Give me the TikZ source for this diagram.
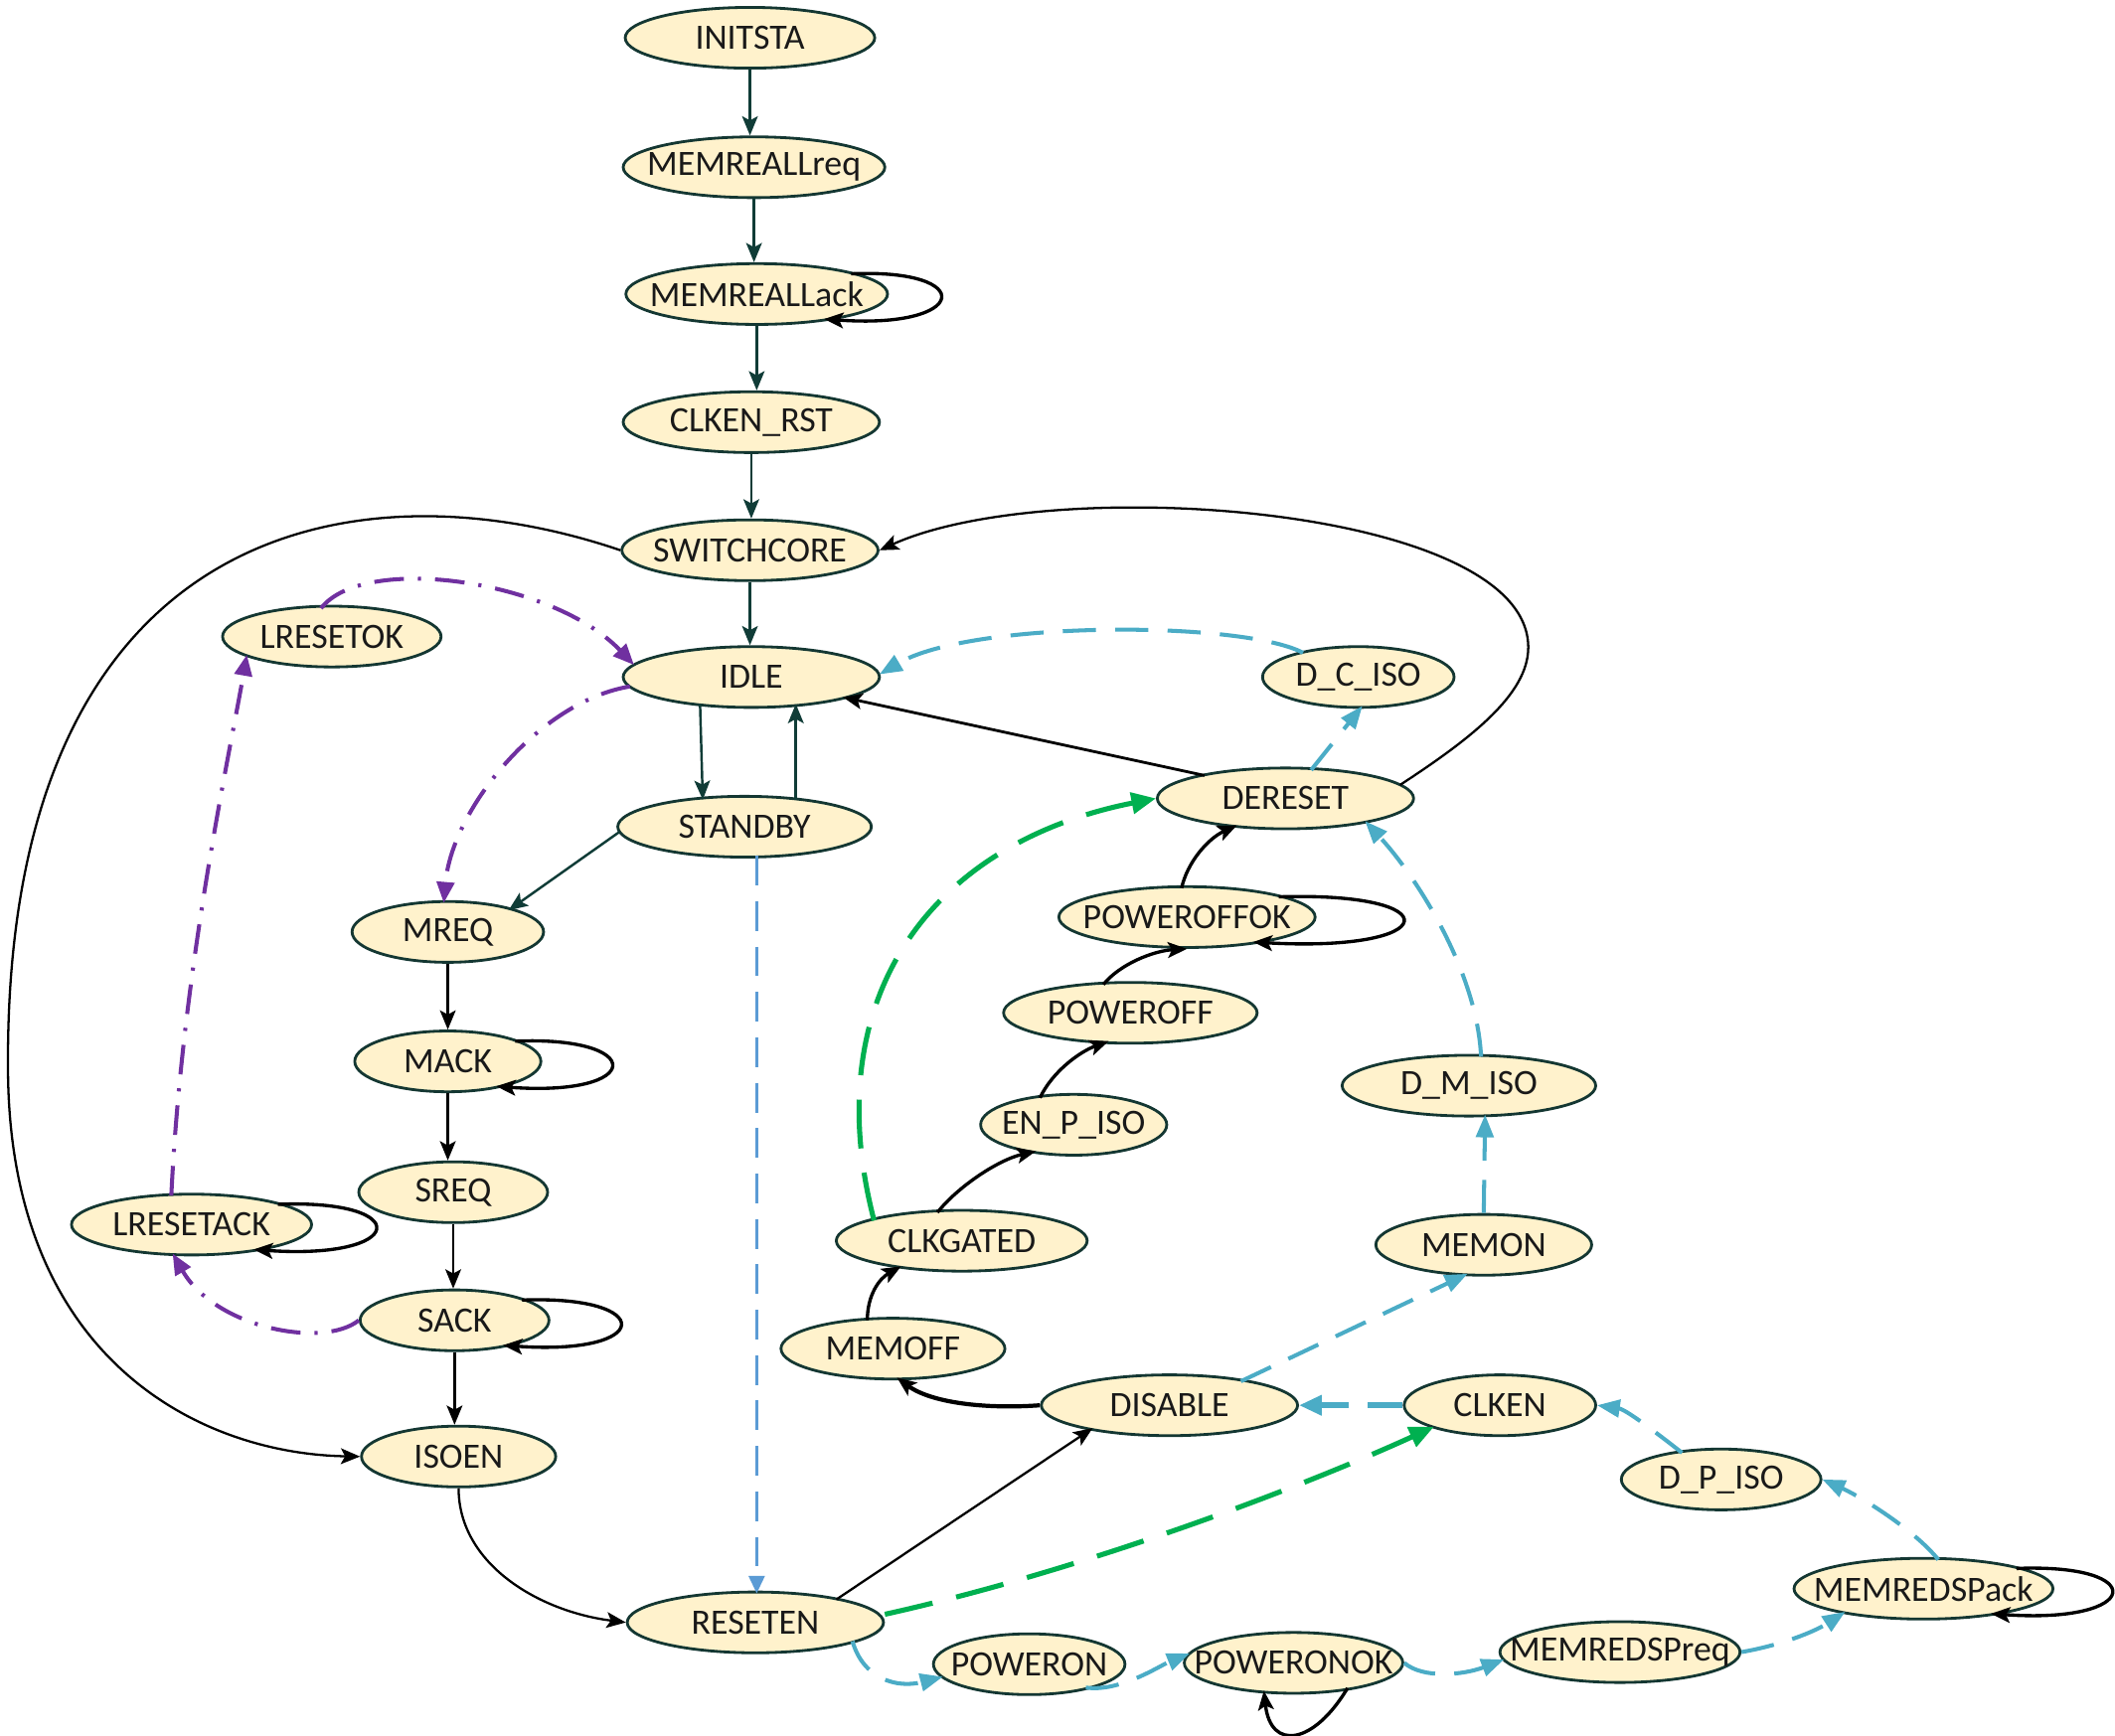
\documentclass[tikz,border=0pt]{standalone}
\usepackage{fontspec}
\setmainfont{Carlito}
\usetikzlibrary{shapes.geometric,arrows.meta,calc}
\definecolor{nodef}{RGB}{255,242,204}
\definecolor{nodeb}{RGB}{20,55,50}
\definecolor{tealc}{RGB}{16,60,55}
\definecolor{cblue}{RGB}{75,172,198}
\definecolor{mblue}{RGB}{91,155,213}
\definecolor{cgreen}{RGB}{0,176,80}
\definecolor{cpurple}{RGB}{112,48,160}
\begin{document}
\begin{tikzpicture}[x=0.3861pt,y=-0.3861pt,
  st/.style={ellipse,draw=nodeb,fill=nodef,line width=0.8pt,inner xsep=-12pt,inner ysep=0pt,
    minimum height=17.4pt,minimum width={#1*0.3861pt},text=black!90,font=\fontsize{10.2}{12}\selectfont},
  tl/.style={draw=tealc,line width=0.7pt,-{Stealth[length=5.5pt,width=4.5pt,inset=1.2pt]}},
  bk/.style={draw=black,line width=0.65pt,-{Stealth[length=5.5pt,width=4.5pt,inset=1.2pt]}},
  bkt/.style={draw=black,line width=0.95pt,-{Stealth[length=5.5pt,width=4.5pt,inset=1.2pt]}},
  bl/.style={draw=cblue,line width=1.15pt,dash pattern=on 9.5pt off 5.5pt,-{Triangle[length=6.5pt,width=5pt]}},
  blt/.style={draw=cblue,line width=1.6pt,dash pattern=on 10pt off 5.5pt,-{Triangle[length=6.5pt,width=5.5pt]}},
  mb/.style={draw=mblue,line width=0.85pt,dash pattern=on 8.5pt off 4.5pt,-{Triangle[length=5pt,width=4.5pt]}},
  gr/.style={draw=cgreen,line width=1.45pt,dash pattern=on 14pt off 7pt,-{Triangle[length=7pt,width=6pt]}},
  pu/.style={draw=cpurple,line width=1.15pt,dash pattern=on 8.5pt off 4pt on 0.9pt off 4pt,-{Triangle[length=6pt,width=5pt]}}
]
\useasboundingbox (0,0) rectangle (1568,1287);

% nodes
\node[st=185] (initsta) at (556,28) {INITSTA};
\node[st=194] (mreqall) at (559,124) {MEMREALLreq};
\node[st=194] (mack0) at (561,218) {MEMREALLack};
\node[st=190] (clkrst) at (557,313) {CLKEN\_RST};
\node[st=190] (switch) at (556,408) {SWITCHCORE};
\node[st=162] (lresetok) at (246,472) {LRESETOK};
\node[st=190] (idle) at (557,502) {IDLE};
\node[st=142] (dciso) at (1007,502) {D\_C\_ISO};
\node[st=188] (standby) at (552,613) {STANDBY};
\node[st=190] (dereset) at (953,592) {DERESET};
\node[st=142] (mreq) at (332,691) {MREQ};
\node[st=190] (poffok) at (880,680) {POWEROFFOK};
\node[st=188] (poff) at (838,751) {POWEROFF};
\node[st=138] (mack) at (332,787) {MACK};
\node[st=188] (dmiso) at (1089,805) {D\_M\_ISO};
\node[st=138] (enpiso) at (796,834) {EN\_P\_ISO};
\node[st=140] (sreq) at (336,884) {SREQ};
\node[st=178] (lresetack) at (142,908) {LRESETACK};
\node[st=186] (clkgated) at (713,920) {CLKGATED};
\node[st=160] (memon) at (1100,923) {MEMON};
\node[st=140] (sack) at (337,979) {SACK};
\node[st=166] (memoff) at (662,1000) {MEMOFF};
\node[st=190] (disable) at (867,1042) {DISABLE};
\node[st=142] (clken) at (1112,1042) {CLKEN};
\node[st=144] (isoen) at (340,1080) {ISOEN};
\node[st=148] (dpiso) at (1276,1097) {D\_P\_ISO};
\node[st=190] (reseten) at (560,1203) {RESETEN};
\node[st=192] (mpack) at (1426,1178) {MEMREDSPack};
\node[st=142] (poweron) at (763,1234) {POWERON};
\node[st=162] (ponok) at (959,1233) {POWERONOK};
\node[st=178] (mpreq) at (1201,1225) {MEMREDSPreq};

% main column
\draw[tl] (initsta.south) -- (initsta.south |- mreqall.north);
\draw[tl] (mreqall.south) -- (mreqall.south |- mack0.north);
\draw[tl] (mack0.south) -- (mack0.south |- clkrst.north);
\draw[tl] (clkrst.south) -- (clkrst.south |- switch.north);
\draw[tl] (switch.south) -- (switch.south |- idle.north);
\draw[tl] ($(idle)+(-38,20)$) -- ($(standby)+(-31,-20)$);
\draw[tl] ($(standby)+(38,-20)$) -- ($(idle)+(33,20)$);
\draw[tl] ($(standby)+(-93,4)$) -- ($(mreq)+(45,-16)$);
\draw[bk] (mreq.south) -- (mreq.south |- mack.north);
\draw[bk] (mack.south) -- (mack.south |- sreq.north);
\draw[bk] (sreq.south) -- (sreq.south |- sack.north);
\draw[bk] (sack.south) -- (sack.south |- isoen.north);

% self loops
\draw[bkt] ($(mack0)+(70,-15)$) .. controls +(95,-4) and +(107,8) .. ($(mack0)+(50,18.5)$);
\draw[bkt] ($(mack)+(50,-15)$) .. controls +(98,-4) and +(110,8) .. ($(mack)+(36,18.5)$);
\draw[bkt] ($(sack)+(50,-15)$) .. controls +(100,-4) and +(112,8) .. ($(sack)+(36,18.5)$);
\draw[bkt] ($(lresetack)+(64,-15)$) .. controls +(102,-4) and +(114,8) .. ($(lresetack)+(46,18.5)$);
\draw[bkt] ($(poffok)+(68,-15)$) .. controls +(129,-4) and +(141,8) .. ($(poffok)+(49,18.5)$);
\draw[bkt] ($(mpack)+(69,-15)$) .. controls +(100,-4) and +(112,8) .. ($(mpack)+(50,18.5)$);
\draw[bkt] ($(ponok)+(40,18.7)$) .. controls +(-25,42) and +(5,45) .. ($(ponok)+(-22,20.7)$);

% long black curves
\draw[bk] (switch.west) .. controls (260,340) and (0,390) .. (6,800)
  .. controls (10,1010) and (150,1078) .. (isoen.west);
\draw[bk] ($(dereset)+(85,-10)$) .. controls (1090,548) and (1133,515) .. (1133,480)
  .. controls (1133,375) and (780,350) .. (switch.east);
\draw[bk,line width=0.8pt] ($(dereset)+(-60,-17)$) -- ($(idle)+(68,15)$);
\draw[bk] (isoen.south) .. controls (340,1160) and (400,1195) .. (reseten.west);
\draw[bk] ($(reseten)+(60,-17)$) -- ($(disable)+(-57,17)$);

% power-off chain
\draw[bkt,line width=1.2pt] (disable.west) .. controls (730,1045) and (690,1040) .. ($(memoff)+(3,21.5)$);
\draw[bkt] ($(memoff)+(-19,-21)$) .. controls (643,960) and (652,948) .. ($(clkgated)+(-45,19)$);
\draw[bkt] ($(clkgated)+(-18,-21)$) .. controls (710,880) and (740,860) .. ($(enpiso)+(-28,19.6)$);
\draw[bkt] ($(enpiso)+(-25,-20)$) .. controls (780,795) and (800,780) .. ($(poff)+(-16,21)$);
\draw[bkt] ($(poff)+(-20,-21)$) .. controls (830,715) and (855,705) .. (poffok.south);
\draw[bkt] ($(poffok)+(-4,-21.5)$) .. controls (880,640) and (895,622) .. ($(dereset)+(-36,20)$);

% green
\draw[gr] ($(clkgated)+(-65,-15)$) .. controls (605,740) and (690,625) .. (dereset.west);
\draw[gr] ($(reseten)+(96,-6)$) .. controls (800,1165) and (960,1105) .. ($(clken)+(-49,16)$);

% blue dashed
\draw[bl] ($(dciso)+(-41,-18)$) .. controls (920,460) and (720,460) .. ($(idle)+(95,-2)$);
\draw[bl] ($(dereset)+(19,-21)$) -- ($(dciso)+(3,21.5)$);
\draw[bl] ($(dmiso)+(9,-21.5)$) .. controls (1095,720) and (1050,650) .. ($(dereset)+(59,16.8)$);
\draw[bl] (memon.north) -- ($(dmiso)+(12,21.5)$);
\draw[bl] ($(disable)+(53,-17.8)$) -- ($(memon)+(-12,21.5)$);
\draw[blt] (clken.west) -- (disable.east);
\draw[bl] ($(dpiso)+(-29,-19.8)$) .. controls (1225,1060) and (1205,1045) .. (clken.east);
\draw[bl] ($(mpack)+(11,-21.5)$) .. controls (1420,1135) and (1380,1110) .. (dpiso.east);
\draw[bl] (mpreq.east) .. controls (1320,1220) and (1345,1210) .. ($(mpack)+(-58,17.1)$);
\draw[bl] (ponok.east) .. controls (1055,1245) and (1085,1242) .. ($(mpreq)+(-86,5.5)$);
\draw[bl] ($(poweron)+(42,17.3)$) .. controls (830,1255) and (860,1235) .. ($(ponok)+(-77,-7)$);
\draw[bl] ($(reseten)+(72,14)$) .. controls (640,1245) and (665,1252) .. ($(poweron)+(-64,9.3)$);
\draw[mb] ($(standby)+(9,21.5)$) -- ($(reseten)+(1,-21.5)$);

% purple dash-dot
\draw[pu] ($(lresetok)+(-8,-21)$) .. controls (270,410) and (410,430) .. ($(idle)+(-87,-9)$);
\draw[pu] ($(idle)+(-90,7)$) .. controls (400,520) and (335,600) .. ($(mreq)+(-3,-21.5)$);
\draw[pu] ($(lresetack)+(-15,-21.5)$) .. controls (135,720) and (170,560) .. ($(lresetok)+(-63,13.5)$);
\draw[pu] (sack.west) .. controls (240,1000) and (160,985) .. ($(lresetack)+(-14,21.5)$);
\end{tikzpicture}
\end{document}
